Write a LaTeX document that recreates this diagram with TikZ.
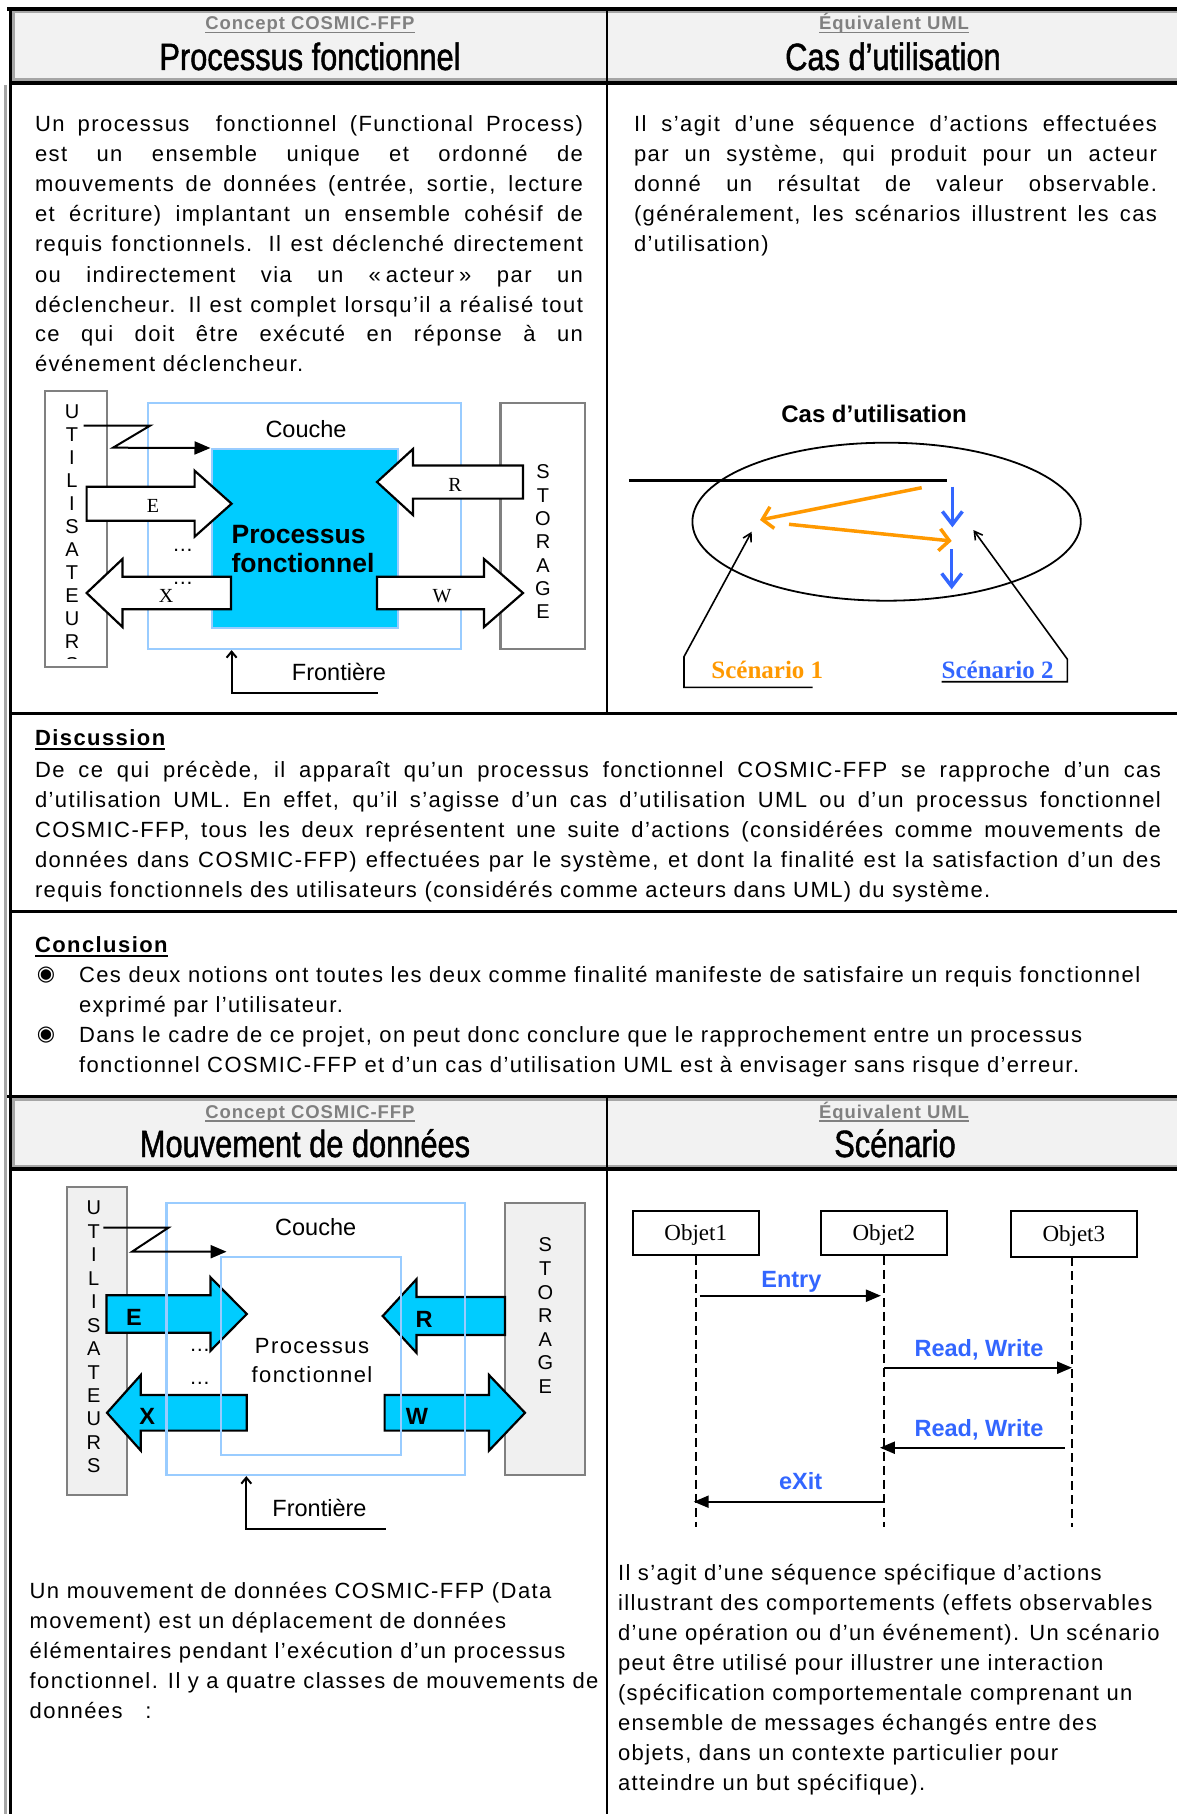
\documentclass[tikz,border=0pt]{standalone}
\usepackage{fontspec}
\setmainfont{Liberation Sans}
\newfontfamily\bodyf[LetterSpace=6.5]{Liberation Sans}
\newfontfamily\titlef[FakeStretch=0.81,FakeBold=1.2]{Liberation Sans}
\newfontfamily\subf[LetterSpace=5]{Liberation Sans}
\newfontfamily\serf{Liberation Serif}
\newfontfamily\symf{DejaVu Sans}
\usetikzlibrary{arrows.meta,shapes.geometric}

\definecolor{hdrfill}{HTML}{F2F2F2}
\definecolor{hdrline}{HTML}{A6A6A6}
\definecolor{subgray}{HTML}{808080}
\definecolor{actorline}{HTML}{808080}
\definecolor{actorfill}{HTML}{F0F0F0}
\definecolor{layerblue}{HTML}{99CCFF}
\definecolor{proccyan}{HTML}{00CCFF}
\definecolor{scorange}{HTML}{FF9900}
\definecolor{scblue}{HTML}{3366FF}

\newcommand\bodytext{\bodyf\fontsize{22}{30}\selectfont}
\newcommand\jline[1]{\makebox[\linewidth][s]{#1}\\}
\newcommand\rline[1]{\mbox{#1}\\}

\tikzset{
  lbl/.style={inner sep=0pt, outer sep=0pt},
  actor/.style={draw=actorline, line width=2.2pt},
  layer/.style={draw=layerblue, line width=2.2pt},
  blockarrow/.style={draw=black, line width=2.2pt, line join=miter},
  letter/.style={lbl, font=\fontsize{20}{20}\selectfont},
  diaglabel/.style={lbl, font=\fontsize{23.5}{26}\selectfont},
  serlabel/.style={lbl, font=\serf\fontsize{20}{20}\selectfont},
  boldlabel/.style={lbl, font=\bfseries\fontsize{23.5}{24}\selectfont},
  flowarrow/.style={line width=2pt, -{Triangle[length=16pt,width=13pt]}},
  boundary/.style={line width=2pt, -{Straight Barb[length=6pt,width=10pt]}},
  pointer/.style={line width=1.6pt, -{Straight Barb[length=8pt,width=9pt]}},
  orangeflow/.style={draw=scorange, line width=3.5pt, -{Straight Barb[length=10pt,width=22pt]}},
  blueflow/.style={draw=scblue, line width=3.5pt, -{Straight Barb[length=13pt,width=20pt]}},
  objbox/.style={draw, line width=2.2pt, minimum width=126pt, minimum height=44pt, inner sep=0pt, text depth=0pt, font=\serf\fontsize{23}{23}\selectfont},
  lifeline/.style={line width=2pt, dash pattern=on 9pt off 5pt},
  msg/.style={line width=2.2pt, -{Triangle[length=15pt,width=12pt]}},
  msglabel/.style={lbl, anchor=base, text=scblue, font=\bfseries\fontsize{23.5}{24}\selectfont},
  subhead/.style={lbl, anchor=base, text=subgray, font=\subf\bfseries\fontsize{18.5}{20}\selectfont},
  mainhead/.style={lbl, anchor=base, font=\titlef\fontsize{38}{40}\selectfont},
  secthead/.style={lbl, anchor=base west, font=\bodyf\bfseries\fontsize{22}{26}\selectfont},
  paragraph/.style={lbl, anchor=base west},
  bulletmark/.style={lbl, font=\symf\fontsize{21}{21}\selectfont},
}

\begin{document}
\begin{tikzpicture}[x=1pt,y=-1pt]
\useasboundingbox (0,0) rectangle (1177,1814);
\fill[white] (0,0) rectangle (1177,1814);

% ---------- table frame ----------
\fill[hdrfill] (12,11) rectangle (1177,81);
\fill[hdrfill] (12,1099) rectangle (1177,1167);
\draw[hdrline, line width=2.5pt] (12,12) -- (1177,12) (12,79.7) -- (1177,79.7);
\draw[hdrline, line width=2.5pt] (12,1099.5) -- (1177,1099.5) (12,1166) -- (1177,1166);
\draw[hdrline, line width=2.5pt] (13.5,12) -- (13.5,80) (13.5,1099) -- (13.5,1167);
\draw[hdrline, line width=2.5pt] (5.5,85) -- (5.5,1814);
\draw[line width=3.4pt] (7,9) -- (1177,9);
\draw[line width=3.5pt] (9,83) -- (1177,83);
\draw[line width=3pt] (10.5,7.5) -- (10.5,1814);
\draw[line width=2.5pt] (607,10.5) -- (607,713);
\draw[line width=2.8pt] (9,713.5) -- (1177,713.5);
\draw[line width=2.5pt] (9,911.7) -- (1177,911.7);
\draw[line width=3.3pt] (7,1096.7) -- (1177,1096.7);
\draw[line width=3.3pt] (9,1169) -- (1177,1169);
\draw[line width=2.5pt] (607,1098) -- (607,1814);

% ---------- headers ----------
\node[subhead] (sub1) at (310,29.5) {Concept COSMIC-FFP};
\node[mainhead] (title1) at (310,70) {Processus fonctionnel};
\node[subhead] (sub2) at (894,29.5) {Équivalent UML};
\node[mainhead] (title2) at (893,70) {Cas d’utilisation};
\node[subhead] (sub3) at (310,1118) {Concept COSMIC-FFP};
\node[mainhead] (title3) at (305,1157) {Mouvement de données};
\node[subhead] (sub4) at (894,1118) {Équivalent UML};
\node[mainhead] (title4) at (895,1157) {Scénario};
\foreach \s in {sub1,sub2,sub3,sub4}
  \draw[subgray, line width=1.5pt] ([yshift=-3pt]\s.base west) -- ([yshift=-3pt]\s.base east);

% ---------- definitions, first row ----------
\node[paragraph] (fpdef) at (35,132) {\parbox[t]{548pt}{\bodytext
\jline{Un processus\ \ fonctionnel (Functional Process)}
\jline{est un ensemble unique et ordonné de}
\jline{mouvements de données (entrée, sortie, lecture}
\jline{et écriture) implantant un ensemble cohésif de}
\jline{requis fonctionnels. Il est déclenché directement}
\jline{ou indirectement via un «\hspace{5pt}acteur\hspace{5pt}» par un}
\jline{déclencheur. Il est complet lorsqu’il a réalisé tout}
\jline{ce qui doit être exécuté en réponse à un}
événement déclencheur.}};

\node[paragraph] (ucdef) at (634,132) {\parbox[t]{523pt}{\bodytext
\jline{Il s’agit d’une séquence d’actions effectuées}
\jline{par un système, qui produit pour un acteur}
\jline{donné un résultat de valeur observable.}
\jline{(généralement, les scénarios illustrent les cas}
d’utilisation)}};

% ---------- functional process diagram ----------
\node[actor, fill=white, minimum width=62pt, minimum height=276pt, inner sep=0pt] (user1) at (76,529) {};
\node[actor, fill=white, minimum width=84.5pt, minimum height=246pt, inner sep=0pt] (store1) at (542.75,526) {};
\begin{scope}
  \clip (45,392) rectangle (107,658);
  \foreach \ch [count=\i from 0] in {U,T,I,L,I,S,A,T,E,U,R,S}
    \node[letter] (u1l\i) at (72,{411.7+23*\i}) {\ch};
\end{scope}
\foreach \ch [count=\i from 0] in {S,T,O,R,A,G,E}
  \node[letter] (s1l\i) at (543,{472+23.3*\i}) {\ch};
\node[layer, minimum width=313pt, minimum height=246pt, inner sep=0pt] (layer1) at (304.5,526) {};
\node[draw=layerblue, line width=2.2pt, fill=proccyan, minimum width=186.5pt, minimum height=179pt, inner sep=0pt, anchor=north west] (proc1) at (210.5,448) {};
\node[diaglabel, anchor=base] (couche1) at (306,437.3) {Couche};
\node[paragraph, font=\bfseries\fontsize{26.5}{29.4}\selectfont] (proc1txt) at (231.6,543.3) {\parbox[t]{170pt}{Processus\\fonctionnel}};

% entry, exit, read, write
\draw[blockarrow, fill=white] (86.6,486.7) -- (194.6,486.7) -- (194.6,470.7) -- (231.6,503.7) -- (194.6,536.7) -- (194.6,520.7) -- (86.6,520.7) -- cycle;
\draw[blockarrow, fill=white] (230.9,576.8) -- (122.5,576.8) -- (122.5,559) -- (86.6,593) -- (122.5,627) -- (122.5,609.2) -- (230.9,609.2) -- cycle;
\draw[blockarrow, fill=white] (523,465.4) -- (413,465.4) -- (413,449) -- (377,482) -- (413,515) -- (413,498.6) -- (523,498.6) -- cycle;
\draw[blockarrow, fill=white] (377,576.8) -- (484,576.8) -- (484,559) -- (523,593) -- (484,627) -- (484,609.2) -- (377,609.2) -- cycle;
\node[serlabel, anchor=base] (e1) at (153,512.7) {E};
\node[serlabel, anchor=base] (x1) at (166,602.7) {X};
\node[serlabel, anchor=base] (r1) at (455,491) {R};
\node[serlabel, anchor=base] (w1) at (442,602.3) {W};
\node[lbl, anchor=base west, font=\fontsize{21}{21}\selectfont] (dots1a) at (172.4,551.7) {…};
\node[lbl, anchor=base west, font=\fontsize{21}{21}\selectfont] (dots1b) at (172.4,584.7) {…};

\draw[flowarrow] (83.6,425.7) -- (150,425.7) -- (113,447.7) -- (proc1.north west);
\coordinate (fb1) at (231.6,693);
\draw[boundary] (377.7,693) -- (fb1) -- (fb1 |- layer1.south);
\node[diaglabel, anchor=base] (front1) at (339,680) {Frontière};

% ---------- use case diagram ----------
\node[lbl, anchor=base, font=\bfseries\fontsize{24}{26}\selectfont] (uctitle) at (874,422.7) {Cas d’utilisation};
\node[draw, ellipse, line width=1.8pt, minimum width=388.4pt, minimum height=158pt, inner sep=0pt] (uc) at (886.6,521.7) {};
\draw[line width=3.5pt] (628.8,480.7) -- (947,480.7);
\draw[orangeflow] (921.7,487.7) -- (760,520);
\draw[orangeflow] (789,524.3) -- (951.7,541);
\draw[blueflow] (952.4,486.7) -- (952.4,527.3);
\draw[blueflow] (951.7,549.3) -- (951.7,589.3);
\node[lbl, anchor=base, text=scorange, font=\serf\bfseries\fontsize{25}{26}\selectfont] (sc1) at (767.3,678.3) {Scénario 1};
\node[lbl, anchor=base, text=scblue, font=\serf\bfseries\fontsize{25}{26}\selectfont] (sc2) at (997.6,678.3) {Scénario 2};
\coordinate (sc1tip) at (751.7,531.7);
\coordinate (sc2tip) at (973.4,530);
\draw[pointer] (812.5,687.3) -- (684,687.3) -- (684,656.7) -- (sc1tip);
\draw[pointer] ([yshift=-3.4pt]sc2.base west) -- (1067.4,681.7) -- (1067.4,659.3) -- (sc2tip);

% ---------- discussion ----------
\node[secthead] (disc) at (35,745.7) {Discussion};
\draw[line width=1.8pt] ([yshift=-3.6pt]disc.base west) -- ([yshift=-3.6pt]disc.base east);
\node[paragraph] (disctext) at (35,777) {\parbox[t]{1126pt}{\bodytext
\jline{De ce qui précède, il apparaît qu’un processus fonctionnel COSMIC-FFP se rapproche d’un cas}
\jline{d’utilisation UML. En effet, qu’il s’agisse d’un cas d’utilisation UML ou d’un processus fonctionnel}
\jline{COSMIC-FFP, tous les deux représentent une suite d’actions (considérées comme mouvements de}
\jline{données dans COSMIC-FFP) effectuées par le système, et dont la finalité est la satisfaction d’un des}
requis fonctionnels des utilisateurs (considérés comme acteurs dans UML) du système.}};

% ---------- conclusion ----------
\node[secthead] (concl) at (35,952) {Conclusion};
\draw[line width=1.8pt] ([yshift=-3.6pt]concl.base west) -- ([yshift=-3.6pt]concl.base east);
\node[bulletmark] (bul1) at (46,975.5) {◉};
\node[bulletmark] (bul2) at (46,1035.5) {◉};
\node[paragraph] (concl1) at (79,982) {\parbox[t]{1090pt}{\bodytext
\rline{Ces deux notions ont toutes les deux comme finalité manifeste de satisfaire un requis fonctionnel}
exprimé par l’utilisateur.}};
\node[paragraph] (concl2) at (79,1042) {\parbox[t]{1090pt}{\bodytext
\rline{Dans le cadre de ce projet, on peut donc conclure que le rapprochement entre un processus}
fonctionnel COSMIC-FFP et d’un cas d’utilisation UML est à envisager sans risque d’erreur.}};

% ---------- data movement diagram ----------
\node[actor, fill=actorfill, minimum width=60pt, minimum height=308.3pt, inner sep=0pt] (user2) at (97,1340.85) {};
\node[actor, fill=actorfill, minimum width=79.8pt, minimum height=272.3pt, inner sep=0pt] (store2) at (544.9,1338.85) {};
\foreach \ch [count=\i from 0] in {U,T,I,L,I,S,A,T,E,U,R,S}
  \node[letter] (u2l\i) at (93.8,{1208+23.45*\i}) {\ch};
\foreach \ch [count=\i from 0] in {S,T,O,R,A,G,E}
  \node[letter] (s2l\i) at (545.3,{1245+23.6*\i}) {\ch};
\node[fill=white, minimum width=180.2pt, minimum height=198.3pt, inner sep=0pt] (proc2) at (310.9,1355.85) {};

\draw[blockarrow, fill=proccyan] (106.4,1295.3) -- (210.5,1295.3) -- (210.5,1277.3) -- (246.8,1314) -- (210.5,1350.7) -- (210.5,1332.7) -- (106.4,1332.7) -- cycle;
\draw[blockarrow, fill=proccyan] (505,1297) -- (416.4,1297) -- (416.4,1279.3) -- (382.7,1316) -- (416.4,1352.7) -- (416.4,1335) -- (505,1335) -- cycle;
\draw[blockarrow, fill=proccyan] (246.8,1395) -- (140.8,1395) -- (140.8,1375) -- (107,1412.8) -- (140.8,1450.6) -- (140.8,1430.6) -- (246.8,1430.6) -- cycle;
\draw[blockarrow, fill=proccyan] (384.6,1395) -- (489,1395) -- (489,1375) -- (525,1412.8) -- (489,1450.6) -- (489,1430.6) -- (384.6,1430.6) -- cycle;

\node[layer, minimum width=298.5pt, minimum height=272.3pt, inner sep=0pt] (layer2) at (315.75,1338.85) {};
\node[layer, minimum width=180.2pt, minimum height=198.3pt, inner sep=0pt] (proc2frame) at (proc2) {};
\node[boldlabel, anchor=base] (e2) at (134,1325) {E};
\node[boldlabel, anchor=base] (r2) at (424,1327.3) {R};
\node[boldlabel, anchor=base] (x2) at (147.3,1424.3) {X};
\node[boldlabel, anchor=base] (w2) at (417,1424.3) {W};
\node[lbl, anchor=base west, font=\fontsize{21}{21}\selectfont] (dots2a) at (189.4,1351.7) {…};
\node[lbl, anchor=base west, font=\fontsize{21}{21}\selectfont] (dots2b) at (189.4,1384.5) {…};
\node[diaglabel, anchor=base] (couche2) at (315.7,1235.7) {Couche};
\node[lbl, anchor=base, font=\bodyf\fontsize{22}{22}\selectfont] (proc2a) at (312,1353.3) {Processus};
\node[lbl, anchor=base, font=\bodyf\fontsize{22}{22}\selectfont] (proc2b) at (312,1382.7) {fonctionnel};
\coordinate (zz2end) at (226.6,1251.7);
\draw[flowarrow] (103.3,1227.7) -- (168.4,1227.7) -- (132,1251.7) -- (zz2end);
\coordinate (fb2) at (246.3,1529.3);
\draw[boundary] (385.5,1529.3) -- (fb2) -- (fb2 |- layer2.south);
\node[diaglabel, anchor=base] (front2) at (319.5,1516.7) {Frontière};

\node[paragraph] (dmdef) at (29.7,1598) {\parbox[t]{570pt}{\bodytext
\rline{Un mouvement de données COSMIC-FFP (Data}
\rline{movement) est un déplacement de données}
\rline{élémentaires pendant l’exécution d’un processus}
\rline{fonctionnel. Il y a quatre classes de mouvements de}
données\ \ \ :}};

% ---------- sequence diagram ----------
\node[objbox] (obj1) at (695.7,1232.8) {Objet1};
\node[objbox] (obj2) at (883.9,1232.8) {Objet2};
\node[objbox, minimum height=46.6pt] (obj3) at (1073.8,1234) {Objet3};
\coordinate (end1) at (695.7,1527);
\coordinate (end2) at (883.9,1527);
\coordinate (end3) at (1072,1527);
\coordinate (top3) at (1072,1257.3);
\draw[lifeline] (obj1.south) -- (end1);
\draw[lifeline] (obj2.south) -- (end2);
\draw[lifeline] (top3) -- (end3);
\coordinate (m1a) at (695.7,1295.7);
\coordinate (m1b) at (883.9,1295.7);
\coordinate (m2a) at (883.9,1367.7);
\coordinate (m2b) at (1072,1367.7);
\coordinate (m3a) at (1072,1447.7);
\coordinate (m3b) at (883.9,1447.7);
\coordinate (m4a) at (883.9,1501.7);
\coordinate (m4b) at (695.7,1501.7);
\draw[msg, shorten <=4pt, shorten >=3pt] (m1a) -- (m1b);
\draw[msg] (m2a) -- (m2b);
\draw[msg, shorten <=7.5pt, shorten >=-4pt] (m3a) -- (m3b);
\draw[msg, shorten >=-2pt] (m4a) -- (m4b);
\node[msglabel] (m1) at (791.4,1287.3) {Entry};
\node[msglabel] (m2) at (979,1356.7) {Read, Write};
\node[msglabel] (m3) at (979,1436.7) {Read, Write};
\node[msglabel] (m4) at (800.6,1489.3) {eXit};

\node[paragraph] (scdef) at (618,1580) {\parbox[t]{556pt}{\bodytext
\rline{Il s’agit d’une séquence spécifique d’actions}
\rline{illustrant des comportements (effets observables}
\rline{d’une opération ou d’un événement). Un scénario}
\rline{peut être utilisé pour illustrer une interaction}
\rline{(spécification comportementale comprenant un}
\rline{ensemble de messages échangés entre des}
\rline{objets, dans un contexte particulier pour}
atteindre un but spécifique).}};
\end{tikzpicture}
\end{document}
